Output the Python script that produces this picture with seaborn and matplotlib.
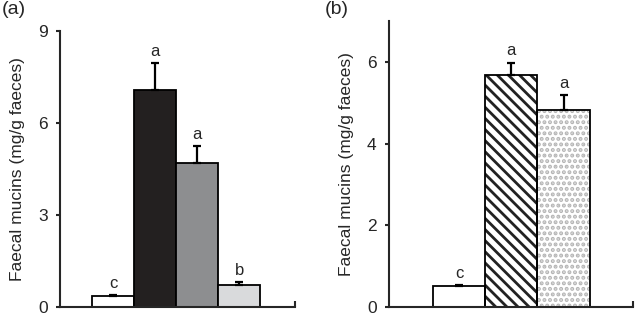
import numpy as np
import pandas as pd
import seaborn as sns
import matplotlib.pyplot as plt

# values
groups_a = ['A1', 'A2', 'A3', 'A4']
mucins_a = [0.36, 7.07, 4.71, 0.72]
sem_a = [0.03, 0.87, 0.54, 0.10]
letters_a = ['c', 'a', 'a', 'b']
colors_a = ['white', '#231f20', '#8d8e90', '#d9dadc']

groups_b = ['B1', 'B2', 'B3']
mucins_b = [0.51, 5.69, 4.82]
sem_b = [0.03, 0.29, 0.37]
letters_b = ['c', 'a', 'a']
hatches_b = ['', '\\\\\\', '...']

sns.set_style('ticks')
plt.rcParams['font.family'] = ['Liberation Sans', 'DejaVu Sans']
plt.rcParams['hatch.linewidth'] = 2.0

fig = plt.figure(figsize=(6.35, 3.18), dpi=100)
ax1 = fig.add_axes([0.0945, 0.0346, 0.3701, 0.868])
ax2 = fig.add_axes([0.6126, 0.0346, 0.3843, 0.8994])

df_a = pd.DataFrame({'group': groups_a, 'mucins': mucins_a})
df_b = pd.DataFrame({'group': groups_b, 'mucins': mucins_b})

# panel (a)
sns.barplot(data=df_a, x='group', y='mucins', hue='group', palette=colors_a,
            width=1, edgecolor='black', linewidth=1.3, legend=False, ax=ax1)

# panel (b): hatch layer, then black outline
sns.barplot(data=df_b, x='group', y='mucins', color='white', width=1,
            edgecolor='#222222', linewidth=0, ax=ax2)
for patch, h in zip(ax2.patches, hatches_b):
    patch.set_hatch(h)
    if h == '...':
        patch.set_edgecolor('#b5b5b5')
sns.barplot(data=df_b, x='group', y='mucins', fill=False, width=1,
            edgecolor='black', linewidth=1.3, ax=ax2)

panels = [(ax1, mucins_a, sem_a, letters_a, (-1.26, 4.33), (0, 9), [0, 3, 6, 9]),
          (ax2, mucins_b, sem_b, letters_b, (-1.34, 3.33), (0, 7), [0, 2, 4, 6])]

for ax, vals, errs, lets, xl, yl, yt in panels:
    x = np.arange(len(vals))
    ax.errorbar(x, vals, yerr=[np.zeros(len(errs)), errs], fmt='none',
                ecolor='black', elinewidth=1.6, capsize=3, capthick=1.6, zorder=1)
    for xi, v, e, l in zip(x, vals, errs, lets):
        ax.annotate(l, (xi, v + e), xytext=(0, 3), textcoords='offset points',
                    ha='center', va='bottom', fontsize=12)
    ax.set_xlim(*xl)
    ax.set_ylim(*yl)
    ax.set_yticks(yt)
    ax.set_xticks([xl[1]])
    ax.set_xticklabels([])
    ax.tick_params(axis='x', direction='in', length=4, width=1.5)
    ax.tick_params(axis='y', direction='out', length=3, width=1.5, pad=6, labelsize=12.5)
    ax.set_xlabel('')
    ax.set_ylabel('Faecal mucins (mg/g faeces)', fontsize=12.5, labelpad=9)
    for side in ['top', 'right']:
        ax.spines[side].set_visible(False)
    for side in ['left', 'bottom']:
        ax.spines[side].set_linewidth(1.5)
    ax.patch.set_alpha(0)

fig.text(0.003, 0.998, '(a)', fontsize=14, ha='left', va='top')
fig.text(0.512, 0.998, '(b)', fontsize=14, ha='left', va='top')

fig.savefig('out.png', dpi=100)
